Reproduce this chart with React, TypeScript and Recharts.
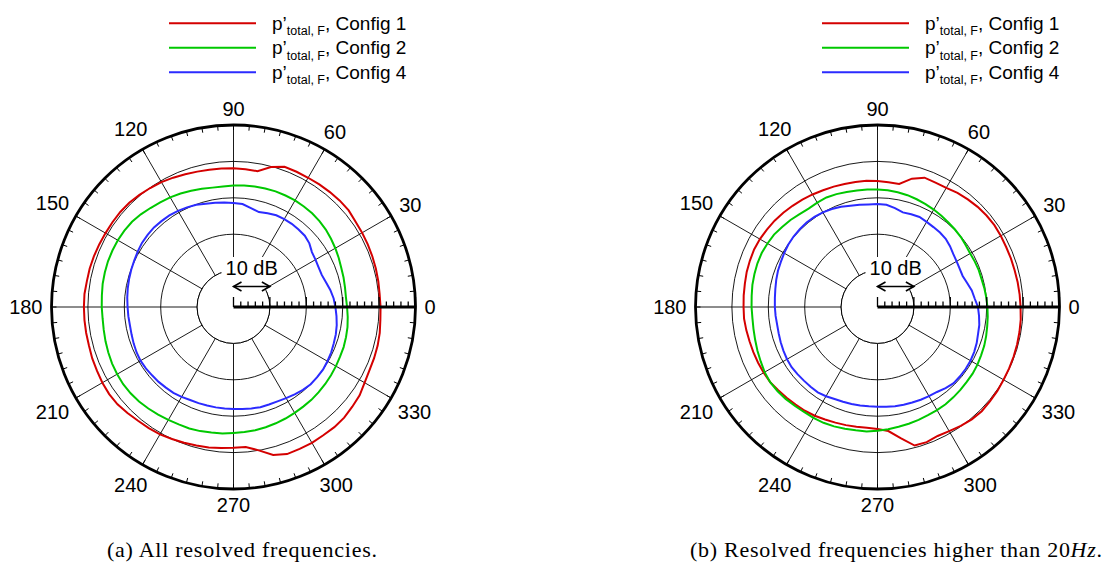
import React from 'react';
import { RadarChart, Radar, PolarGrid, PolarAngleAxis, PolarRadiusAxis, Legend } from 'recharts';

// ---------- data ----------
const ANGLES = [0, 5, 10, 15, 20, 25, 30, 35, 40, 45, 50, 55, 60, 65, 70, 75, 80, 85, 90, 95,
  100, 105, 110, 115, 120, 125, 130, 135, 140, 145, 150, 155, 160, 165, 170, 175, 180, 185, 190, 195,
  200, 205, 210, 215, 220, 225, 230, 235, 240, 245, 250, 255, 260, 265, 270, 275, 280, 285, 290, 295,
  300, 305, 310, 315, 320, 325, 330, 335, 340, 345, 350, 355];

// (a) All resolved frequencies
const CONFIG1_A = [40.3, 40.4, 40.5, 40.6, 40.7, 40.8, 40.9, 41.3, 41.3, 41.2,
  41.1, 41.0, 41.0, 41.0, 39.8, 37.9, 38.0, 38.1, 38.2, 38.3,
  38.5, 38.8, 39.2, 39.6, 39.9, 40.2, 40.5, 40.6, 40.6, 40.6,
  40.7, 40.8, 40.9, 40.9, 41.1, 41.1, 41.1, 41.1, 41.1, 41.3,
  41.4, 41.6, 41.7, 41.6, 41.2, 40.8, 40.6, 40.4, 40.0, 39.7,
  39.4, 39.2, 38.9, 38.7, 38.6, 40.0, 42.1, 43.0, 43.0, 43.1,
  43.0, 43.1, 43.0, 42.6, 42.3, 41.6, 41.2, 41.1, 41.0, 40.8,
  40.5, 40.4];
const CONFIG2_A = [31.0, 31.1, 31.3, 31.5, 31.9, 32.3, 32.7, 33.1, 33.4, 33.6,
  33.7, 33.8, 33.8, 33.8, 33.7, 33.6, 33.5, 33.4, 33.2, 33.3,
  33.6, 34.0, 34.4, 34.8, 35.1, 35.5, 36.0, 36.4, 36.6, 36.7,
  36.7, 36.7, 36.6, 36.5, 36.3, 36.2, 36.1, 36.2, 36.4, 36.6,
  36.8, 36.9, 37.0, 36.9, 36.7, 36.4, 36.1, 35.8, 35.6, 35.5,
  35.3, 35.0, 34.9, 34.6, 34.5, 34.4, 34.2, 34.0, 33.8, 33.6,
  33.4, 33.3, 33.1, 32.9, 32.7, 32.5, 32.3, 32.2, 32.0, 31.8,
  31.5, 31.2];
const CONFIG4_A = [27.6, 27.0, 26.3, 25.8, 25.8, 26.0, 26.3, 27.2, 27.7, 27.8,
  27.9, 27.9, 27.8, 27.4, 27.0, 27.6, 28.4, 28.6, 28.8, 29.1,
  29.4, 29.9, 30.2, 30.5, 30.7, 30.8, 30.9, 30.8, 30.7, 30.4,
  30.1, 29.9, 29.7, 29.5, 29.3, 29.1, 29.0, 28.9, 29.0, 29.2,
  29.4, 29.5, 29.4, 29.2, 29.1, 28.9, 28.8, 28.5, 28.2, 28.1,
  28.0, 28.0, 28.0, 28.0, 28.1, 28.3, 28.5, 28.5, 28.6, 28.9,
  29.3, 29.7, 30.0, 30.0, 30.0, 29.8, 29.6, 29.3, 29.1, 28.8,
  28.4, 28.0];

// (b) Resolved frequencies higher than 20 Hz
const CONFIG1_B = [39.2, 39.1, 39.0, 39.0, 39.0, 39.1, 39.2, 39.1, 38.9, 38.6,
  38.3, 37.8, 37.7, 37.8, 36.5, 34.3, 34.4, 34.6, 34.8, 34.9,
  35.0, 35.2, 35.4, 35.7, 36.0, 36.3, 36.6, 36.9, 37.1, 37.3,
  37.4, 37.3, 37.2, 37.0, 36.9, 36.8, 36.8, 36.6, 36.4, 36.3,
  36.2, 36.1, 36.0, 35.6, 35.3, 35.0, 34.8, 34.5, 34.1, 33.8,
  33.6, 33.4, 33.3, 33.5, 34.2, 36.6, 39.4, 39.5, 39.1, 39.4,
  39.9, 40.3, 40.5, 40.3, 40.2, 40.0, 39.9, 39.8, 39.7, 39.6,
  39.5, 39.3];
const CONFIG2_B = [30.0, 29.8, 29.6, 29.6, 29.5, 29.4, 29.6, 29.9, 30.1, 30.3,
  30.6, 30.9, 31.2, 31.5, 31.8, 32.0, 32.2, 32.3, 32.4, 32.5,
  32.7, 33.0, 33.2, 33.1, 33.0, 33.3, 33.8, 34.2, 34.7, 34.9,
  35.1, 35.1, 35.0, 34.9, 34.7, 34.6, 34.5, 34.6, 34.8, 35.1,
  35.4, 35.8, 36.0, 35.9, 35.7, 35.4, 35.2, 35.2, 35.1, 34.9,
  34.6, 34.4, 34.3, 34.0, 33.7, 33.4, 33.2, 33.0, 32.8, 32.7,
  32.6, 32.4, 32.2, 32.0, 31.9, 31.7, 31.4, 31.2, 30.9, 30.6,
  30.4, 30.2];
const CONFIG4_B = [26.8, 26.3, 25.5, 24.9, 24.9, 25.1, 25.4, 26.0, 26.5, 26.7,
  26.8, 27.0, 27.3, 27.1, 26.9, 27.6, 28.2, 28.3, 28.3, 28.5,
  28.8, 29.3, 29.7, 30.0, 30.2, 30.3, 30.2, 30.1, 29.9, 29.6,
  29.3, 29.1, 28.8, 28.5, 28.3, 28.2, 28.1, 28.0, 28.1, 28.3,
  28.5, 28.7, 28.8, 28.7, 28.6, 28.6, 28.6, 28.3, 27.9, 27.7,
  27.6, 27.5, 27.4, 27.4, 27.5, 27.7, 27.8, 27.9, 28.1, 28.3,
  28.5, 29.1, 29.6, 29.6, 29.6, 29.5, 29.3, 29.0, 28.6, 28.4,
  28.0, 27.6];

const SERIES_NAMES = ['Config 1', 'Config 2', 'Config 4'];
const SERIES_COLORS = ['#d40000', '#00c800', '#2b2bff'];
const SPOKE_ANGLES = [0, 30, 60, 90, 120, 150, 180, 210, 240, 270, 300, 330];
const RING_DB = [10, 20, 30, 40];
const RADIAL_TICKS = [0, 2, 4, 6, 8, 10, 12, 14, 16, 18, 20, 22, 24, 26, 28, 30, 32, 34, 36, 38, 40, 42, 44, 46, 48, 50];
const R_MAX = 50;
const HOLE_DB = 10;
const SCALE_DB = 10;
const SCALE_LABEL = '10 dB';
const CAPTION_A = '(a) All resolved frequencies.';
const CAPTION_B_PRE = '(b) Resolved frequencies higher than 20';
const CAPTION_B_UNIT = 'Hz';

// ---------- layout ----------
const W = 1106;
const H = 563;
const PANEL_W = 553;
const OUTER_R = 182;
const CY = 307;
const CX_A = 233.5;
const CX_B = 877.5 - PANEL_W;
const FONT = '"Liberation Sans", Arial, Helvetica, sans-serif';
const SERIF = '"Liberation Serif", "Times New Roman", serif';
const TICK_LEN = 5;
const LABEL_GAP = 9;
const RAD = Math.PI / 180;

const buildData = (c1: number[], c2: number[], c4: number[]) =>
  ANGLES.map((a, i) => ({ angle: a, c1: c1[i], c2: c2[i], c4: c4[i], hole: HOLE_DB }));

const DATA_A = buildData(CONFIG1_A, CONFIG2_A, CONFIG4_A);
const DATA_B = buildData(CONFIG1_B, CONFIG2_B, CONFIG4_B);

const AngleTick = (props: any) => {
  const { x, y, payload } = props;
  const value = Number(payload && payload.value);
  const rad = typeof props.radius === 'number' ? props.radius : OUTER_R;
  let cx = props.cx;
  let cy = props.cy;
  if (typeof cx !== 'number' || typeof cy !== 'number') {
    const c = Number(payload.coordinate) * RAD;
    const rr = rad - TICK_LEN;
    cx = x - rr * Math.cos(c);
    cy = y + rr * Math.sin(c);
  }
  const ux = Math.cos(value * RAD);
  const uy = -Math.sin(value * RAD);
  const x1 = cx + ux * (rad - TICK_LEN);
  const y1 = cy + uy * (rad - TICK_LEN);
  const x2 = cx + ux * rad;
  const y2 = cy + uy * rad;
  let label = null;
  if (value % 30 === 0) {
    const txt = String(value);
    const hw = (txt.length * 0.556 * 20) / 2;
    const hh = 7.2;
    const d = rad + LABEL_GAP + hw * Math.abs(ux) + hh * Math.abs(uy);
    label = (
      <text x={cx + ux * d} y={cy + uy * d} dy="0.36em" textAnchor="middle" fontSize={20}
        fontFamily={FONT} fill="#000" stroke="none">{txt}</text>
    );
  }
  return (
    <g>
      <line x1={x1} y1={y1} x2={x2} y2={y2} stroke="#000" strokeWidth={1} />
      {label}
    </g>
  );
};

const RadiusTick = (props: any) => {
  const { x, y, payload } = props;
  const v = Number(payload && payload.value);
  const major = v % 10 === 0;
  const len = major ? 10 : 5.5;
  const parts: any[] = [
    <line key="t" x1={x} y1={y} x2={x} y2={y - len} stroke="#000" strokeWidth={1.3} />,
  ];
  if (v === SCALE_DB) {
    const x0 = x - Number(payload.coordinate);
    const ay = y - 20.5;
    parts.unshift(<rect key="bg" x={x0 - 12} y={y - 50} width={x - x0 + 7.5} height={38} fill="#fff" />);
    parts.push(
      <g key="arrow" stroke="#000" strokeWidth={1.6} fill="none">
        <line x1={x0} y1={ay} x2={x} y2={ay} />
        <polyline points={`${x0 + 8},${ay - 4.5} ${x0},${ay} ${x0 + 8},${ay + 4.5}`} />
        <polyline points={`${x - 8},${ay - 4.5} ${x},${ay} ${x - 8},${ay + 4.5}`} />
      </g>,
      <text key="lbl" x={(x0 + x) / 2} y={y - 32} textAnchor="middle" fontSize={20} fontFamily={FONT}
        fill="#000" stroke="none">{SCALE_LABEL}</text>,
    );
  }
  return <g>{parts}</g>;
};

const HoleShape = (props: any) => {
  const pts = props.points || [];
  if (!pts.length) return <g />;
  const mx = pts.reduce((s: number, p: any) => s + p.x, 0) / pts.length;
  const my = pts.reduce((s: number, p: any) => s + p.y, 0) / pts.length;
  const r = Math.hypot(pts[0].x - mx, pts[0].y - my);
  return <circle cx={mx} cy={my} r={r} fill="#fff" stroke="#000" strokeWidth={1} />;
};

const LegendContent = (props: any) => {
  const payload = (props.payload || []).filter((p: any) => p.type !== 'none' && p.dataKey !== 'hole');
  return (
    <svg width={320} height={90} style={{ display: 'block' }}>
      {payload.map((p: any, i: number) => {
        const ly = 23.3 + i * 24.5;
        return (
          <g key={String(p.value)}>
            <line x1={9} x2={96} y1={ly} y2={ly} stroke={p.color} strokeWidth={2} />
            <text x={112} y={ly + 6.3} fontSize={19} fontFamily={FONT} fill="#000">
              {'p\u2019'}
              <tspan fontSize={12.5} dy={5.7}>total, F</tspan>
              <tspan fontSize={19} dy={-5.7}>{', ' + p.value}</tspan>
            </text>
          </g>
        );
      })}
    </svg>
  );
};

const Panel = ({ data, cx, legendLeft }: { data: any[]; cx: number; legendLeft: number }) => (
  <RadarChart width={PANEL_W} height={H} data={data} cx={cx} cy={CY} outerRadius={OUTER_R} innerRadius={0}
    startAngle={0} endAngle={360} margin={{ top: 0, right: 0, bottom: 0, left: 0 }}>
    <PolarGrid gridType="circle" polarAngles={SPOKE_ANGLES}
      polarRadius={RING_DB.map((v) => (OUTER_R * v) / R_MAX)} stroke="#000" strokeWidth={0.9} strokeOpacity={1} />
    <PolarAngleAxis dataKey="angle" type="category" orientation="inner" tickSize={TICK_LEN}
      tickLine={false} tick={AngleTick} axisLineType="circle"
      axisLine={{ stroke: '#000', strokeWidth: 2.8 }} />
    <Radar dataKey="hole" legendType="none" shape={HoleShape} fill="#fff" fillOpacity={1}
      stroke="#000" strokeWidth={1} dot={false} isAnimationActive={false} />
    <PolarRadiusAxis angle={0} type="number" domain={[0, R_MAX]} ticks={RADIAL_TICKS} tickCount={26}
      axisLine={{ stroke: '#000', strokeWidth: 3 }} tick={RadiusTick} />
    {['c1', 'c2', 'c4'].map((k, i) => (
      <Radar key={k} dataKey={k} name={SERIES_NAMES[i]} stroke={SERIES_COLORS[i]} strokeWidth={2}
        fill="none" fillOpacity={0} dot={false} legendType="line" isAnimationActive={false} />
    ))}
    <Legend content={LegendContent}
      wrapperStyle={{ position: 'absolute', left: legendLeft, top: 0, width: 320, height: 90 }} />
  </RadarChart>
);

export default function App() {
  return (
    <div style={{ position: 'absolute', left: 0, top: 0, width: W, height: H, background: '#fff', overflow: 'hidden' }}>
      <div style={{ position: 'absolute', left: 0, top: 0, width: PANEL_W, height: H }}>
        <Panel data={DATA_A} cx={CX_A} legendLeft={160} />
      </div>
      <div style={{ position: 'absolute', left: PANEL_W, top: 0, width: PANEL_W, height: H }}>
        <Panel data={DATA_B} cx={CX_B} legendLeft={260} />
      </div>
      <svg width={W} height={H} style={{ position: 'absolute', left: 0, top: 0, pointerEvents: 'none' }}>
        <text x={107} y={556.5} fontSize={22} fontFamily={SERIF} fill="#000" textLength={270} lengthAdjust="spacing">
          {CAPTION_A}
        </text>
        <text x={690} y={556.5} fontSize={22} fontFamily={SERIF} fill="#000" textLength={412} lengthAdjust="spacing">
          {CAPTION_B_PRE}
          <tspan fontStyle="italic">{CAPTION_B_UNIT}</tspan>.
        </text>
      </svg>
    </div>
  );
}
